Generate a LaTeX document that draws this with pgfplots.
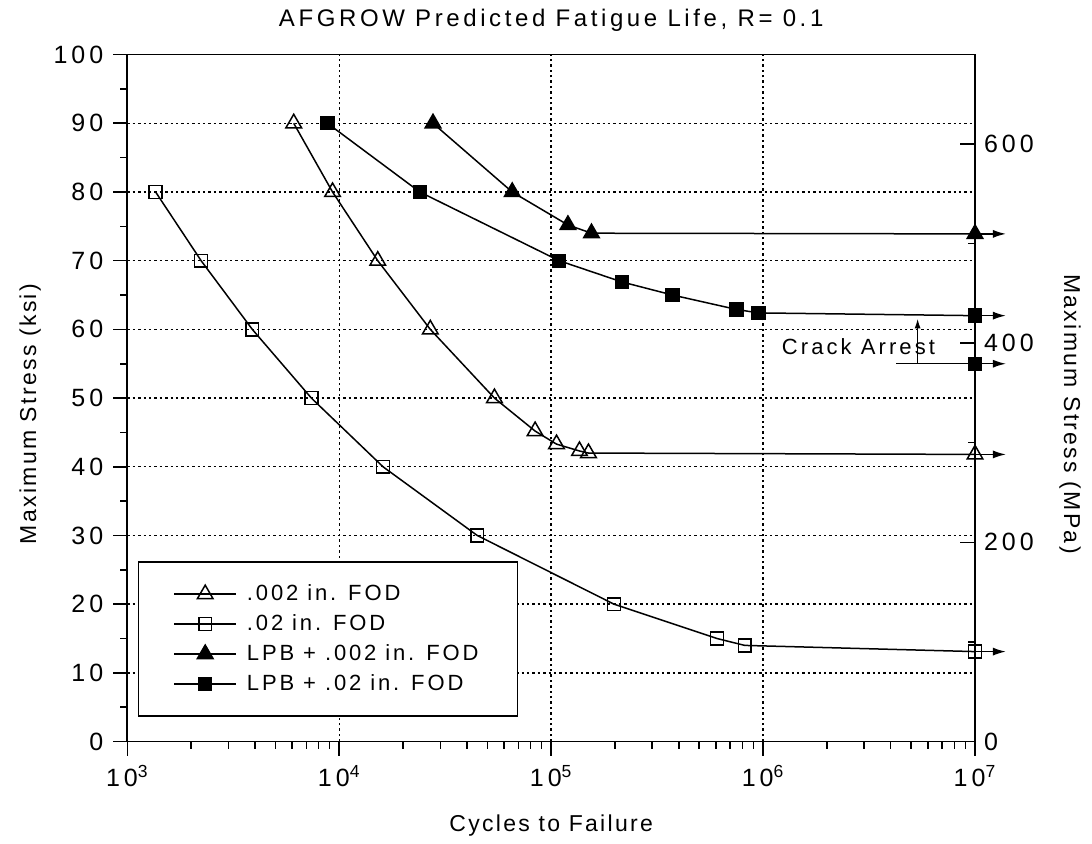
\documentclass[border=0pt]{standalone}
\usepackage{fontspec}
\setmainfont{Liberation Sans}[LetterSpace=12]
\newfontfamily\tickfont{Liberation Sans}[LetterSpace=16]
\newfontfamily\titlefont{Liberation Sans}[LetterSpace=15]
\newfontfamily\labfont{Liberation Sans}[LetterSpace=10]
\newfontfamily\legfont{Liberation Sans}[LetterSpace=13]
\newfontfamily\crackfont{Liberation Sans}[LetterSpace=14]
\usepackage{pgfplots}
\pgfplotsset{compat=1.18}
\usetikzlibrary{arrows.meta}

\begin{document}
\begin{tikzpicture}
\path[use as bounding box] (-63.65pt,-51.2pt) rectangle (482.35pt,370.8pt);
\pgfplotsset{
  every axis/.append style={
    scale only axis, width=423.85pt, height=343.5pt,
    xmode=log, xmin=1e3, xmax=1e7,
    /pgf/number format/assume math mode=true,
    font=\fontsize{10.5}{12.6}\selectfont,
    ticklabel style={font=\tickfont\fontsize{12.5}{14}\selectfont},
    axis line style={line width=0.9pt,-},
    every tick/.style={black, line width=0.8pt},
  },
  ser/.style={black, line width=0.75pt, mark options={solid, line width=0.75pt}},
  arr/.style={black, line width=0.75pt, -{Latex[length=6.5pt,width=4pt]}, forget plot},
}
\begin{axis}[
  at={(0,0)}, anchor=south west,
  ymin=0, ymax=100,
  xtick pos=bottom, ytick pos=left,
  xtick={1e3,1e4,1e5,1e6,1e7},
  xticklabels={10\textsuperscript{3},10\textsuperscript{4},10\textsuperscript{5},10\textsuperscript{6},10\textsuperscript{7}},
  xticklabel style={yshift=-1.5pt},
  ytick={0,10,...,90}, minor ytick={5,15,...,95},
  extra y ticks={100}, extra y tick style={grid=none},
  yticklabel style={xshift=-1.5pt},
  tick align=outside, major tick length=7pt, minor tick length=3.5pt,
  xmajorgrids, ymajorgrids,
  major grid style={black, line width=0.7pt, dash pattern=on 1.2pt off 1.5pt},
  clip=false,
  title={\titlefont\fontsize{12}{14}\selectfont AFGROW Predicted Fatigue Life, R= 0.1},
  title style={at={(axis description cs:0.5,1)}, yshift=11pt, anchor=center},
  xlabel={\labfont\fontsize{11.5}{13}\selectfont Cycles to Failure},
  xlabel style={at={([yshift=-42pt]axis description cs:0.5,0)}, anchor=center},
  ylabel={\labfont\fontsize{11.5}{13}\selectfont Maximum Stress (ksi)},
  ylabel style={at={([xshift=-48.6pt,yshift=-8pt]axis description cs:0,0.5)}, anchor=center, rotate=0},
  legend style={at={(axis description cs:0.01227,0.03625)}, anchor=south west,
    draw=black, line width=0.75pt, inner xsep=17.5pt, inner ysep=9.25pt, row sep=1.5pt,
    font=\legfont\fontsize{11}{13}\selectfont,
    /tikz/every odd column/.append style={column sep=3pt}},
  legend cell align=left,
  legend image code/.code={\draw[mark repeat=2,mark phase=2] plot coordinates {(0pt,0pt)(15.5pt,0pt)(31pt,0pt)};},
]
% run-out arrows
\addplot[arr] coordinates {(1e7,41.8) (1.4e7,41.8)};
\addplot[arr] coordinates {(1e7,13.1) (1.4e7,13.1)};
\addplot[arr] coordinates {(1e7,73.9) (1.4e7,73.9)};
\addplot[arr] coordinates {(1e7,62.0) (1.4e7,62.0)};
\addplot[arr] coordinates {(4.26e6,55) (1.4e7,55)};
\addplot[black, line width=0.75pt, -{Latex[length=5pt,width=3pt]}, forget plot] coordinates {(5.36e6,55) (5.36e6,61.6)};

\addplot[ser, mark=triangle, mark size=4.5pt, mark options={fill=white}] coordinates {
 (6.1e3,90) (9.3e3,80) (1.52e4,70) (2.69e4,60) (5.4e4,50) (8.4e4,45.2) (1.06e5,43.3) (1.36e5,42.3) (1.5e5,42.0) (1e7,41.8)};
\addlegendentry{.002 in. FOD}
\addplot[ser, mark=square, mark size=3.2pt, mark options={fill=white}] coordinates {
 (1.36e3,80) (2.23e3,70) (3.89e3,60) (7.39e3,50) (1.61e4,40) (4.48e4,30) (1.98e5,20) (6.07e5,15) (8.2e5,14) (1e7,13.1)};
\addlegendentry{.02 in. FOD}
\addplot[ser, mark=triangle*, mark size=4.5pt, mark options={fill=black}] coordinates {
 (2.77e4,90) (6.55e4,80) (1.2e5,75.2) (1.55e5,74.0) (1e7,73.9)};
\addlegendentry{LPB + .002 in. FOD\hspace{3pt}}
\addplot[ser, mark=square*, mark size=3.2pt, mark options={fill=black}] coordinates {
 (8.8e3,90) (2.4e4,80) (1.09e5,70) (2.16e5,66.9) (3.74e5,65.0) (7.5e5,62.9) (9.5e5,62.4) (1e7,62.0)};
\addlegendentry{LPB + .02 in. FOD}
\addplot[ser, only marks, mark=square*, mark size=3.2pt, mark options={fill=black}, forget plot] coordinates {(1e7,55)};

\node[font=\crackfont\fontsize{11}{13}\selectfont] at (axis cs:2.82e6,57.5) {Crack Arrest};
\end{axis}

\begin{axis}[
  at={(0,0)}, anchor=south west,
  ymin=0, ymax=689.4757,
  axis x line=none, axis y line*=right,
  ytick={0,200,400,600}, minor ytick={100,300,500},
  tick align=inside, major tick length=7.5pt, minor tick length=3.5pt,
  yticklabel style={xshift=1pt},
  ylabel={\labfont\fontsize{11.5}{13}\selectfont Maximum Stress (MPa)},
  ylabel style={at={([xshift=47.5pt,yshift=-8pt]axis description cs:1,0.5)}, anchor=center, rotate=180},
]
\addplot[draw=none] coordinates {(1e3,0)};
\end{axis}
\end{tikzpicture}
\end{document}
